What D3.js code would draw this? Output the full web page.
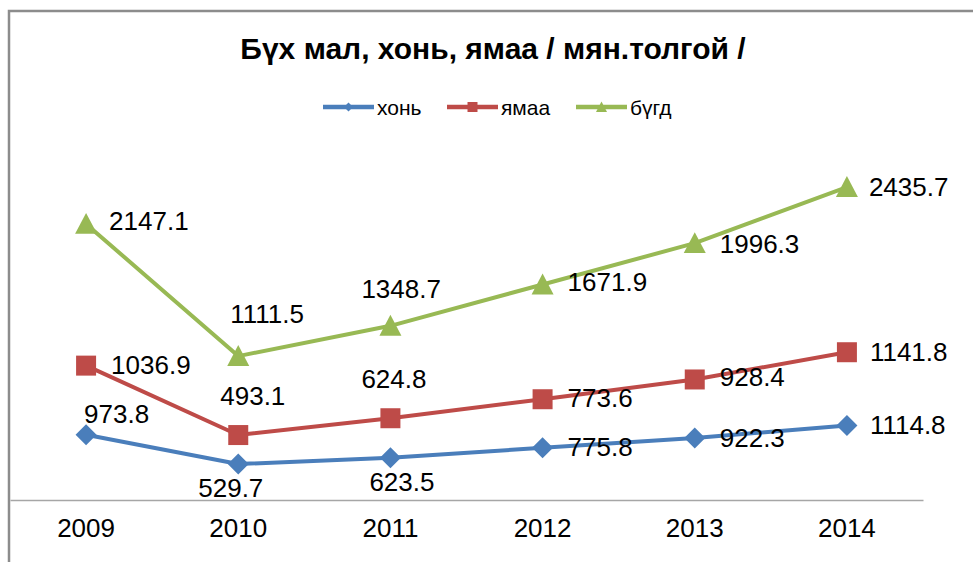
<!DOCTYPE html>
<meta charset="utf-8">
<script src="https://d3js.org/d3.v7.min.js"></script>
<style>
  body { margin: 0; background: #fff; }
  text { font-family: "Liberation Sans", Arial, sans-serif; fill: #000; }
</style>
<svg width="973" height="562"></svg>

<script>
    const years = ["2009", "2010", "2011", "2012", "2013", "2014"];
    const khon = [973.8, 529.7, 623.5, 775.8, 922.3, 1114.8];
    const yamaa = [1036.9, 493.1, 624.8, 773.6, 928.4, 1141.8];
    const bugd = [2147.1, 1111.5, 1348.7, 1671.9, 1996.3, 2435.7];

    // label nudges [dx, dy] from the marker centre (text-anchor start, baseline)
    const khonLabel = [[-2, -12], [-40, 33], [-21, 33], [25, 8], [25, 9], [23, 9]];
    const yamaaLabel = [[25, 8], [-18, -30], [-29, -30], [25, 8], [25, 7], [23, 9]];
    const bugdLabel = [[23, 6], [-8, -33], [-29, -28], [25, 6], [25, 10], [22, 9]];

    const svg = d3.select("svg");

    // outer frame
    svg.append("rect")
        .attr("x", 9).attr("y", 11)
        .attr("width", 1000).attr("height", 600)
        .attr("fill", "none")
        .attr("stroke", "#8c8c8c")
        .attr("stroke-width", 2.5);

    const x = d3.scaleBand().domain(years).range([10, 923]);
    const cx = d => x(d) + x.bandwidth() / 2;

    // хонь is on the (hidden) secondary axis
    const yLeft = d3.scaleLinear().domain([0, 3000]).range([498, 115]);
    const yRight = d3.scaleLinear().domain([0, 5800]).range([499, 116]);

    const diamond = r => `M0,${-r}L${r},0L0,${r}L${-r},0Z`;
    const square = r => `M${-r},${-r}H${r}V${r}H${-r}Z`;
    const triangle = r => `M0,${-r}L${r},${r * 0.9}L${-r},${r * 0.9}Z`;

    const series = [
        {name: "хонь", values: khon, y: yRight, color: "#4a7ebb", shape: diamond, size: 10.5, lsize: 4.5, labels: khonLabel},
        {name: "ямаа", values: yamaa, y: yLeft, color: "#be4b48", shape: square, size: 10, lsize: 5, labels: yamaaLabel},
        {name: "бүгд", values: bugd, y: yLeft, color: "#98b954", shape: triangle, size: 11, lsize: 5.5, labels: bugdLabel}
    ];

    // x axis
    const axis = svg.append("g")
        .attr("transform", "translate(0,500)")
        .call(d3.axisBottom(x).tickSize(0).tickSizeOuter(0));
    axis.select(".domain").attr("stroke", "#a6a6a6").attr("stroke-width", 1.3);
    axis.selectAll("text")
        .attr("y", 37).attr("dy", 0)
        .attr("font-size", "26px")
        .attr("font-family", "'Liberation Sans', Arial, sans-serif")
        .attr("fill", "#111");

    series.forEach(s => {
        const pts = years.map((yr, i) => ({yr: yr, v: s.values[i], off: s.labels[i]}));
        const line = d3.line().x(d => cx(d.yr)).y(d => s.y(d.v));

        svg.append("path")
            .datum(pts)
            .attr("fill", "none")
            .attr("stroke", s.color)
            .attr("stroke-width", 4)
            .attr("stroke-linejoin", "round")
            .attr("d", line);

        svg.append("g")
            .selectAll("path")
            .data(pts)
            .join("path")
            .attr("transform", d => `translate(${cx(d.yr)},${s.y(d.v)})`)
            .attr("d", s.shape(s.size))
            .attr("fill", s.color);

        svg.append("g")
            .selectAll("text")
            .data(pts)
            .join("text")
            .attr("x", d => cx(d.yr) + d.off[0])
            .attr("y", d => s.y(d.v) + d.off[1])
            .attr("font-size", "26px")
            .attr("fill", "#111")
            .text(d => d3.format(".1f")(d.v));
    });

    // title
    svg.append("text")
        .attr("x", 493).attr("y", 59)
        .attr("text-anchor", "middle")
        .attr("font-size", "30px")
        .attr("font-weight", "bold")
        .text("Бүх мал, хонь, ямаа / мян.толгой /");

    // legend
    const legendX = [323, 447, 576];
    const legend = svg.append("g");
    series.forEach((s, i) => {
        const g = legend.append("g").attr("transform", `translate(${legendX[i]},107)`);
        g.append("line")
            .attr("x1", 0).attr("x2", 51)
            .attr("stroke", s.color)
            .attr("stroke-width", 4.5);
        g.append("path")
            .attr("transform", "translate(25.5,0)")
            .attr("d", s.shape(s.lsize))
            .attr("fill", s.color);
        g.append("text")
            .attr("x", 54).attr("y", 7.5)
            .attr("font-size", "21px")
            .text(s.name);
    });
</script>
